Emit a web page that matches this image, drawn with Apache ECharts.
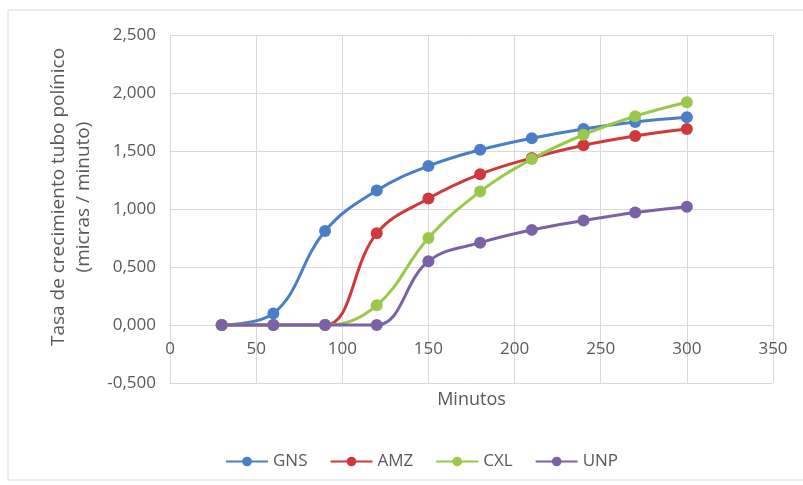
<!DOCTYPE html>
<html>
<head>
<meta charset="utf-8">
<script src="https://cdn.jsdelivr.net/npm/echarts@6/dist/echarts.min.js"></script>
<style>
  html, body { margin: 0; padding: 0; background: #fff; }
  #chart { width: 803px; height: 485px; }
</style>
</head>
<body>
<div id="chart"></div>
<script>
// minutos
const minutos = [30, 60, 90, 120, 150, 180, 210, 240, 270, 300];
const gns = [0, 0.10, 0.81, 1.16, 1.37, 1.51, 1.61, 1.69, 1.75, 1.79];
const amz = [0, 0, 0, 0.79, 1.09, 1.30, 1.44, 1.55, 1.63, 1.69];
const cxl = [0, 0, 0, 0.17, 0.75, 1.15, 1.43, 1.64, 1.80, 1.92];
const unp = [0, 0, 0, 0, 0.55, 0.71, 0.82, 0.90, 0.97, 1.02];
const seriesNames = ['GNS', 'AMZ', 'CXL', 'UNP'];
const colors = ['#4A7EC9', '#D0393B', '#9BC84B', '#7B62A8'];

const myChart = echarts.init(document.getElementById('chart'));
const font = 'Open Sans';

function pairs(arr) {
  return minutos.map((m, i) => [m, arr[i]]);
}

const option = {
  animation: false,
  textStyle: { fontFamily: font },
  graphic: [{
    type: 'rect',
    shape: { x: 8, y: 10, width: 800, height: 470 },
    style: { fill: 'none', stroke: '#d9d9d9', lineWidth: 1 },
    silent: true
  }],
  legend: {
    data: seriesNames,
    bottom: 10,
    left: 220,
    itemWidth: 42,
    itemHeight: 12,
    itemGap: 22,
    textStyle: { color: '#595959', fontSize: 17, fontFamily: font }
  },
  grid: {
    left: 170,
    right: 30,
    top: 35,
    bottom: 102
  },
  xAxis: {
    type: 'value',
    min: 0,
    max: 350,
    interval: 50,
    name: 'Minutos',
    nameLocation: 'middle',
    nameGap: 66,
    nameTextStyle: { color: '#595959', fontSize: 18 },
    // Excel puts the horizontal axis on the 0 line
    offset: -58,
    axisLine: { onZero: false, lineStyle: { color: '#d9d9d9' } },
    axisTick: { show: false },
    axisLabel: { color: '#595959', fontSize: 17, margin: 16 },
    splitLine: { show: true, lineStyle: { color: '#d9d9d9' } }
  },
  yAxis: {
    type: 'value',
    min: -0.5,
    max: 2.5,
    interval: 0.5,
    name: 'Tasa de crecimiento tubo polínico\n(micras / minuto)',
    nameLocation: 'middle',
    nameGap: 72,
    nameTextStyle: { color: '#595959', fontSize: 19, lineHeight: 25, padding: [0, 0, 0, 24] },
    axisLine: { show: false },
    axisTick: { show: false },
    axisLabel: {
      color: '#595959',
      fontSize: 17,
      margin: 14,
      formatter: function (v) { return v.toFixed(3).replace('.', ','); }
    },
    splitLine: { show: true, lineStyle: { color: '#d9d9d9' } }
  },
  series: [gns, amz, cxl, unp].map((arr, i) => ({
    name: seriesNames[i],
    type: 'line',
    data: pairs(arr),
    smooth: 0.4,
    symbol: 'circle',
    symbolSize: 12,
    itemStyle: { color: colors[i] },
    lineStyle: { color: colors[i], width: 3 }
  }))
};

myChart.setOption(option);

window.addEventListener('resize', function () {
  myChart.resize();
});
</script>
</body>
</html>
